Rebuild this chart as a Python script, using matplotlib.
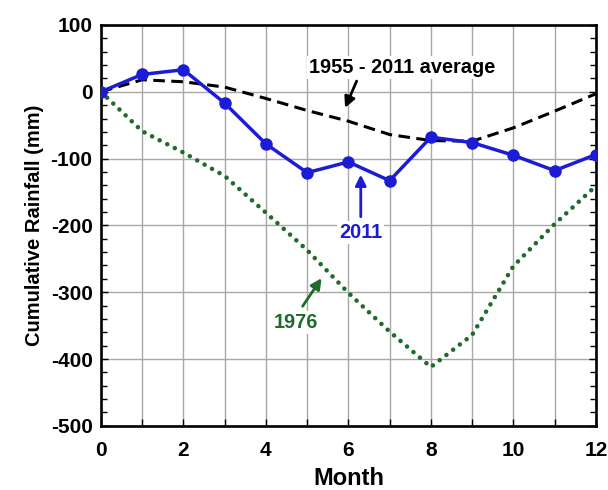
import numpy as np
import matplotlib.pyplot as plt
from matplotlib.ticker import MultipleLocator

plt.rcParams['font.family'] = ['Liberation Sans', 'DejaVu Sans']
plt.rcParams['font.weight'] = 'bold'
plt.rcParams['axes.unicode_minus'] = False

# data
months = [0, 1, 2, 3, 4, 5, 6, 7, 8, 9, 10, 11, 12]
rain_2011 = [0, 26, 33, -17, -78, -121, -105, -133, -68, -76, -95, -118, -94]
rain_avg = [0, 18, 15, 7, -10, -28, -44, -64, -73, -74, -54, -29, -3]
rain_1976 = [0, -59, -91, -126, -181, -237, -301, -359, -412, -364, -261, -198, -141]

blue = '#1c1cd6'
green = '#1e6b2c'

fig = plt.figure(figsize=(6.08, 4.9), dpi=100)
ax = fig.add_axes([0.166, 0.131, 0.814, 0.818])

ax.plot(months, rain_avg, color='black', lw=2.2, linestyle=(0, (3.8, 2.1)), zorder=3)
ax.plot(months, rain_1976, color=green, lw=3.3, linestyle=(0, (0.01, 1.85)),
        dash_capstyle='round', zorder=3)
ax.plot(months, rain_2011, color=blue, lw=2.5, marker='o', markersize=8, zorder=4)

ax.set_xlim(0, 12)
ax.set_ylim(-500, 100)
ax.set_xticks(months)
ax.set_xticklabels([str(m) if m % 2 == 0 else '' for m in months])
ax.yaxis.set_major_locator(MultipleLocator(100))
ax.yaxis.set_minor_locator(MultipleLocator(20))
ax.grid(True, which='major', color='#a8a8a8', lw=1.0, zorder=0)
ax.tick_params(axis='both', which='major', direction='in', length=5, width=1,
               labelsize=15, top=False, right=True)
ax.tick_params(axis='x', pad=11)
ax.tick_params(axis='y', pad=6)
ax.tick_params(axis='y', which='minor', direction='in', length=4, width=1, right=True)
for s in ax.spines.values():
    s.set_linewidth(1.9)

ax.set_xlabel('Month', fontsize=17, fontweight='bold', labelpad=5)
ax.set_ylabel('Cumulative Rainfall (mm)', fontsize=14.5, fontweight='bold', labelpad=5)

box = dict(facecolor='white', edgecolor='none', pad=1.5)
arrow = dict(arrowstyle='-|>', lw=2.0, mutation_scale=16, shrinkA=0, shrinkB=0)

ax.text(7.31, 36, '1955 - 2011 average', fontsize=14.4, fontweight='bold',
        ha='center', va='center', bbox=box, zorder=5)
ax.annotate('', xy=(5.92, -24), xytext=(6.2, 16),
            arrowprops=dict(arrow, color='black'), zorder=5)

ax.text(6.30, -211, '2011', fontsize=14.4, fontweight='bold', color=blue,
        ha='center', va='center', bbox=box, zorder=5)
ax.annotate('', xy=(6.30, -124), xytext=(6.30, -187),
            arrowprops=dict(arrow, color=blue), zorder=5)

ax.text(4.73, -346, '1976', fontsize=14.4, fontweight='bold', color=green,
        ha='center', va='center', bbox=box, zorder=5)
ax.annotate('', xy=(5.35, -279), xytext=(4.89, -321),
            arrowprops=dict(arrow, color=green), zorder=5)

fig.savefig('out.png', dpi=100)
